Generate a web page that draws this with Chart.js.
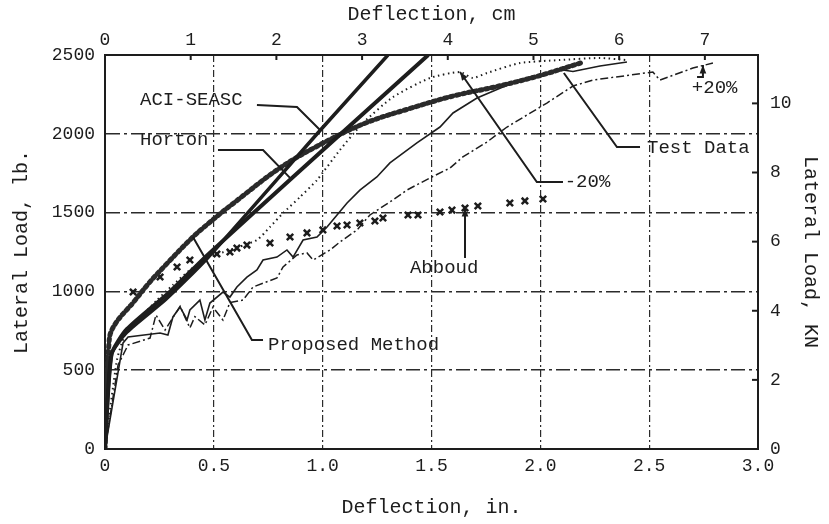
<!DOCTYPE html>
<html><head><meta charset="utf-8">
<script src="https://cdn.jsdelivr.net/npm/chart.js@4.4.0/dist/chart.umd.min.js"></script>
<style>html,body{margin:0;padding:0;background:#fff;}canvas{display:block;}</style>
</head><body>
<canvas id="c" width="829" height="524"></canvas>
<script>
// ---- tick labels ----
const xTickLabels = ['0','0.5','1.0','1.5','2.0','2.5','3.0'];
const yTickLabels = ['0','500','1000','1500','2000','2500'];
const cmTickLabels = ['0','1','2','3','4','5','6','7'];
const kNTickLabels = ['0','2','4','6','8','10'];

// ---- series (deflection in., lateral load lb) ----
const testDataX = [0,0.083,0.106,0.253,0.289,0.312,0.345,0.377,0.390,0.436,0.459,0.482,0.542,0.574,0.606,0.652,0.698,0.726,0.790,0.836,0.864,0.910,0.974,1.020,1.112,1.171,1.249,1.309,1.433,1.539,1.599,1.709,1.828,1.952,2.104,2.150,2.274,2.398];
const testDataY = [0,673,711,736,723,838,901,819,882,945,819,926,996,964,1028,1091,1136,1199,1218,1263,1218,1326,1345,1409,1561,1643,1726,1815,1942,2043,2132,2227,2297,2360,2405,2395,2430,2456];

const minus20X = [0,0.055,0.092,0.161,0.239,0.312,0.390,0.469,0.574,0.698,0.758,0.818,0.896,0.974,1.079,1.185,1.323,1.493,1.631,1.690,1.755,1.906,2.090,2.274,2.398];
const minus20Y = [0,565,723,831,945,1041,1136,1212,1263,1326,1409,1497,1599,1707,1897,2068,2233,2354,2392,2354,2386,2449,2468,2481,2468];

const plus20X = [0,0.060,0.106,0.207,0.234,0.276,0.345,0.390,0.413,0.459,0.496,0.542,0.574,0.634,0.680,0.790,0.818,0.882,0.928,0.956,1.034,1.079,1.158,1.217,1.323,1.387,1.493,1.585,1.644,1.755,1.847,2.030,2.150,2.242,2.517,2.549,2.701,2.793];
const plus20Y = [0,533,660,704,850,755,905,768,840,787,900,818,930,945,1028,1085,1155,1231,1244,1199,1263,1313,1390,1485,1580,1643,1720,1783,1853,1948,2043,2195,2303,2341,2392,2341,2417,2449];

const proposedX = [0,0.02,0.05,0.13,0.2,0.28,0.4,0.5,0.6,0.8,1.0,1.2,1.4,1.6,1.8,2.0,2.2];
const proposedY = [0,700,800,930,1050,1170,1340,1460,1570,1780,1940,2070,2160,2240,2300,2370,2456];

const aciX = [0,0.03,0.1,0.28,0.47,0.99,1.30];
const aciY = [0,600,740,950,1210,2024,2500];

const hortonX = [0,0.03,0.1,0.3,0.47,0.864,1.485];
const hortonY = [0,600,760,1000,1230,1726,2500];

const abboudX = [0.129,0.253,0.331,0.390,0.514,0.574,0.606,0.652,0.758,0.850,0.928,1.001,1.066,1.112,1.171,1.240,1.277,1.392,1.438,1.539,1.594,1.654,1.713,1.860,1.929,2.012];
const abboudY = [996,1091,1155,1199,1237,1250,1275,1294,1307,1345,1371,1390,1415,1421,1434,1447,1466,1485,1485,1504,1516,1529,1542,1561,1574,1586];

// ---- leader lines ----
const aciLeaderX = [0.698,0.882,0.988],   aciLeaderY = [2183,2170,2024];
const hortonLeaderX = [0.519,0.726,0.850], hortonLeaderY = [1897,1897,1720];
const propLeaderX = [0.726,0.675,0.404],  propLeaderY = [692,692,1345];
const abbLeaderX = [1.654,1.654],         abbLeaderY = [1212,1529];
const m20LeaderX = [2.104,1.984,1.631],   m20LeaderY = [1694,1694,2392];
const testLeaderX = [2.458,2.352,2.108],  testLeaderY = [1916,1916,2386];
const p20LeaderX = [2.72,2.747,2.747],    p20LeaderY = [2360,2360,2436];

// ---- labels ----
const labelText = ['ACI-SEASC','Horton','Proposed Method','Abboud','-20%','Test Data','+20%'];
const labelX = [0.161,0.161,0.749,1.401,2.112,2.49,2.696];
const labelY = [2214,1961,660,1148,1694,1910,2291];

const INK = '#1d1d1d';
const FONT = '"Liberation Mono","DejaVu Sans Mono",monospace';
const pts = (xs, ys) => xs.map((v, i) => ({x: v, y: ys[i]}));

const leader = (xs, ys) => ({data: pts(xs, ys), borderColor: INK, borderWidth: 2, pointRadius: 0, fill: false, tension: 0});
const arrowSets = [[abbLeaderX, abbLeaderY], [m20LeaderX, m20LeaderY], [p20LeaderX, p20LeaderY]];

const overlay = {
  id: 'overlay',
  afterDraw(chart) {
    const {ctx, scales, chartArea} = chart;
    const x = scales.x, y = scales.y;
    ctx.save();
    ctx.fillStyle = INK;
    ctx.font = '19px ' + FONT;
    ctx.textBaseline = 'middle';
    ctx.textAlign = 'left';
    labelText.forEach((t, i) => ctx.fillText(t, x.getPixelForValue(labelX[i]), y.getPixelForValue(labelY[i])));
    arrowSets.forEach(([xs, ys]) => {
      const n = xs.length;
      const x1 = x.getPixelForValue(xs[n-2]), y1 = y.getPixelForValue(ys[n-2]);
      const x2 = x.getPixelForValue(xs[n-1]), y2 = y.getPixelForValue(ys[n-1]);
      const a = Math.atan2(y2 - y1, x2 - x1), L = 9;
      ctx.beginPath();
      ctx.moveTo(x2, y2);
      ctx.lineTo(x2 - L*Math.cos(a - 0.38), y2 - L*Math.sin(a - 0.38));
      ctx.lineTo(x2 - L*Math.cos(a + 0.38), y2 - L*Math.sin(a + 0.38));
      ctx.closePath();
      ctx.fill();
    });
    ctx.strokeStyle = INK;
    ctx.lineWidth = 2;
    scales.y2.ticks.forEach(t => {
      const py = scales.y2.getPixelForValue(t.value);
      ctx.beginPath(); ctx.moveTo(chartArea.right, py); ctx.lineTo(chartArea.right - 6, py); ctx.stroke();
    });
    scales.x2.ticks.forEach(t => {
      const px = scales.x2.getPixelForValue(t.value);
      ctx.beginPath(); ctx.moveTo(px, chartArea.top); ctx.lineTo(px, chartArea.top + 5); ctx.stroke();
    });
    ctx.restore();
  }
};

const tickFont = {family: FONT, size: 18};
const titleFont = {family: FONT, size: 20};

new Chart(document.getElementById('c'), {
  type: 'line',
  data: {
    datasets: [
      leader(aciLeaderX, aciLeaderY),
      leader(hortonLeaderX, hortonLeaderY),
      leader(propLeaderX, propLeaderY),
      leader(abbLeaderX, abbLeaderY),
      leader(m20LeaderX, m20LeaderY),
      leader(testLeaderX, testLeaderY),
      leader(p20LeaderX, p20LeaderY),
      {label: 'ACI-SEASC', data: pts(aciX, aciY), borderColor: INK, borderWidth: 3.5, pointRadius: 0, tension: 0.2},
      {label: 'Horton', data: pts(hortonX, hortonY), borderColor: INK, borderWidth: 4, pointRadius: 0, tension: 0.2},
      {label: 'Proposed Method', data: pts(proposedX, proposedY), borderColor: '#2a2a2a', borderWidth: 5, borderDash: [2.5, 3.5], borderCapStyle: 'round', pointRadius: 0, tension: 0.35},
      {label: 'Test Data', data: pts(testDataX, testDataY), borderColor: INK, borderWidth: 1.6, pointRadius: 0, tension: 0},
      {label: '-20%', data: pts(minus20X, minus20Y), borderColor: INK, borderWidth: 2, borderDash: [1.5, 3.5], pointRadius: 0, tension: 0.2},
      {label: '+20%', data: pts(plus20X, plus20Y), borderColor: INK, borderWidth: 1.5, borderDash: [8, 3, 2, 3], pointRadius: 0, tension: 0},
      {label: 'Abboud', data: pts(abboudX, abboudY), showLine: false, pointStyle: 'crossRot', pointRadius: 4.5, pointBorderWidth: 2.5, borderColor: INK, pointBorderColor: INK}
    ]
  },
  options: {
    responsive: false,
    animation: false,
    devicePixelRatio: 1,
    layout: {padding: 0},
    plugins: {legend: {display: false}, tooltip: {enabled: false}},
    scales: {
      x: {
        type: 'linear', position: 'bottom', min: 0, max: 3,
        ticks: {stepSize: 0.5, color: INK, font: tickFont, padding: 6, callback: (v, i) => xTickLabels[i]},
        grid: {color: '#2b2b2b', lineWidth: 1.2, drawTicks: false},
        border: {display: true, color: INK, width: 2, dash: [7, 3, 2, 3]},
        title: {display: true, text: 'Deflection, in.', color: INK, font: titleFont, padding: {top: 0, bottom: 4}},
        afterFit: s => { s.height = 75; }
      },
      x2: {
        type: 'linear', position: 'top', min: 0, max: 7.62,
        ticks: {stepSize: 1, includeBounds: false, color: INK, font: tickFont, padding: 4, callback: (v, i) => cmTickLabels[i]},
        grid: {drawOnChartArea: false, drawTicks: false},
        border: {display: true, color: INK, width: 2},
        title: {display: true, text: 'Deflection, cm', color: INK, font: titleFont, padding: {top: 3, bottom: 0}},
        afterFit: s => { s.height = 55; }
      },
      y: {
        type: 'linear', position: 'left', min: 0, max: 2500,
        ticks: {stepSize: 500, color: INK, font: tickFont, padding: 10, callback: (v, i) => yTickLabels[i]},
        grid: {color: '#2b2b2b', lineWidth: 1.5, drawTicks: false},
        border: {display: true, color: INK, width: 2, dash: [14, 4, 3, 4]},
        title: {display: true, text: 'Lateral Load, lb.', color: INK, font: titleFont, padding: {top: 10, bottom: 0}},
        afterFit: s => { s.width = 105; }
      },
      y2: {
        type: 'linear', position: 'right', min: 0, max: 11.4,
        ticks: {stepSize: 2, includeBounds: false, color: INK, font: tickFont, padding: 12, callback: (v, i) => kNTickLabels[i]},
        grid: {drawOnChartArea: false, drawTicks: false},
        border: {display: true, color: INK, width: 2},
        title: {display: true, text: 'Lateral Load, KN', color: INK, font: titleFont, padding: {top: 7, bottom: 0}},
        afterFit: s => { s.width = 71; }
      }
    }
  },
  plugins: [overlay]
});
</script>
</body></html>
